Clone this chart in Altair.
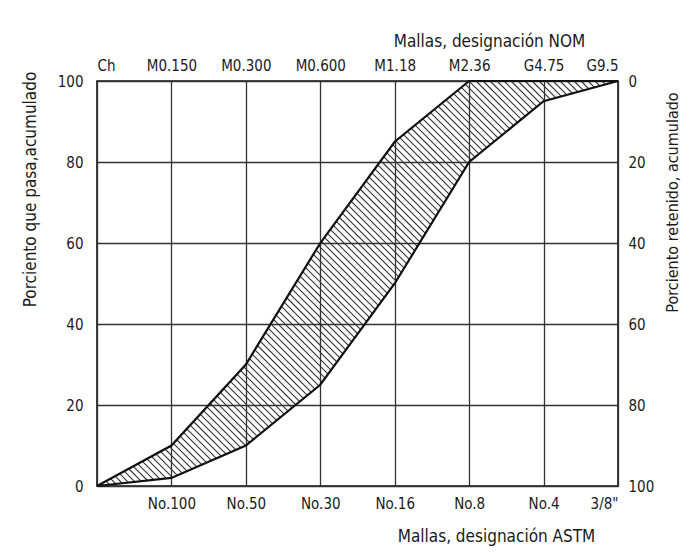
import json
import numpy as np
import pandas as pd
import altair as alt

# ---- data ----
nom_labels = ["Ch", "M0.150", "M0.300", "M0.600", "M1.18", "M2.36", "G4.75", "G9.5"]
astm_labels = ["", "No.100", "No.50", "No.30", "No.16", "No.8", "No.4", '3/8"']
upper_limit = [0, 10, 30, 60, 85, 100, 100, 100]
lower_limit = [0, 2, 10, 25, 50, 80, 95, 100]
pct_ticks = [0, 20, 40, 60, 80, 100]

W, H = 521, 405
FONT = "DejaVu Sans Condensed, DejaVu Sans"
n = len(nom_labels)
idx = list(range(n))

curves = pd.DataFrame({
    "i": idx * 2,
    "pct": upper_limit + lower_limit,
    "curve": ["superior"] * n + ["inferior"] * n,
})

# ---- hatch segments clipped to the band between the two limits ----
sx = W / (n - 1)
sy = H / 100.0
px = np.linspace(0, W, 40001)
U = np.interp(px / sx, idx, upper_limit) * sy
L = np.interp(px / sx, idx, lower_limit) * sy
segs = []
step = 7.0
c = step
while c < W + H:
    line = c - px
    inside = (line <= U + 1e-9) & (line >= L - 1e-9)
    if inside.any():
        sel = px[inside]
        a, b = sel.min(), sel.max()
        if b - a > 0.5:
            segs.append({"x": a / sx, "x2": b / sx, "y": (c - a) / sy, "y2": (c - b) / sy})
    c += step
hatch = pd.DataFrame(segs)

xscale = alt.Scale(domain=[0, n - 1], nice=False, zero=False)
yscale = alt.Scale(domain=[0, 100], nice=False)

bottom_expr = json.dumps(astm_labels) + "[round(datum.value)]"
top_expr = json.dumps(nom_labels) + "[round(datum.value)]"

curve_layer = alt.Chart(curves).mark_line(color="#111", strokeWidth=2.2).encode(
    x=alt.X("i:Q", scale=xscale, axis=alt.Axis(
        orient="bottom", values=idx, labelExpr=bottom_expr, grid=True, ticks=False,
        domain=False, labelPadding=10, labelFlush=True,
        title="Mallas, designación ASTM", titleX=399, titleY=50,
        titleAlign="center", titleBaseline="middle")),
    y=alt.Y("pct:Q", scale=yscale, axis=alt.Axis(
        orient="left", values=pct_ticks, grid=True, ticks=False, domain=False,
        labelPadding=14, title="Porciento que pasa,acumulado", titleAngle=270,
        titleX=-67, titleY=108, titleAlign="center", titleBaseline="middle")),
    detail="curve:N",
)

hatch_layer = alt.Chart(hatch).mark_rule(color="#333", strokeWidth=1.1).encode(
    x=alt.X("x:Q", scale=xscale, axis=None),
    x2="x2:Q",
    y=alt.Y("y:Q", scale=yscale, axis=None),
    y2="y2:Q",
)

axis_layer = alt.Chart(curves).mark_point(opacity=0).encode(
    x=alt.X("i:Q", scale=xscale, axis=alt.Axis(
        orient="top", values=idx, labelExpr=top_expr, grid=False, ticks=False,
        domain=False, labelPadding=8, labelFlush=True,
        title="Mallas, designación NOM", titleX=392, titleY=-40,
        titleAlign="center", titleBaseline="middle")),
    y=alt.Y("pct:Q", scale=yscale, axis=alt.Axis(
        orient="right", values=pct_ticks, labelExpr="100 - datum.value",
        grid=False, ticks=False, domain=False, labelPadding=10,
        title="Porciento retenido, acumulado", titleAngle=270, titleX=54,
        titleY=121, titleAlign="center", titleBaseline="middle",
        titleFontSize=16)),
)

chart = alt.layer(hatch_layer, curve_layer, axis_layer).resolve_scale(
    x="independent", y="independent"
).properties(
    width=W, height=H,
    autosize=alt.AutoSizeParams(type="none"),
    padding={"left": 89, "top": 73, "right": 63, "bottom": 60},
    background="white",
).configure_view(
    stroke="#111", strokeWidth=1.6
).configure_axis(
    labelFont=FONT, titleFont=FONT, labelFontSize=15, titleFontSize=17,
    labelColor="#1a1a1a", titleColor="#1a1a1a", titleFontWeight="normal",
    gridColor="#333", gridWidth=1.3, gridOpacity=1,
)

chart.save("out.html", embed_options={"renderer": "svg", "actions": False})
